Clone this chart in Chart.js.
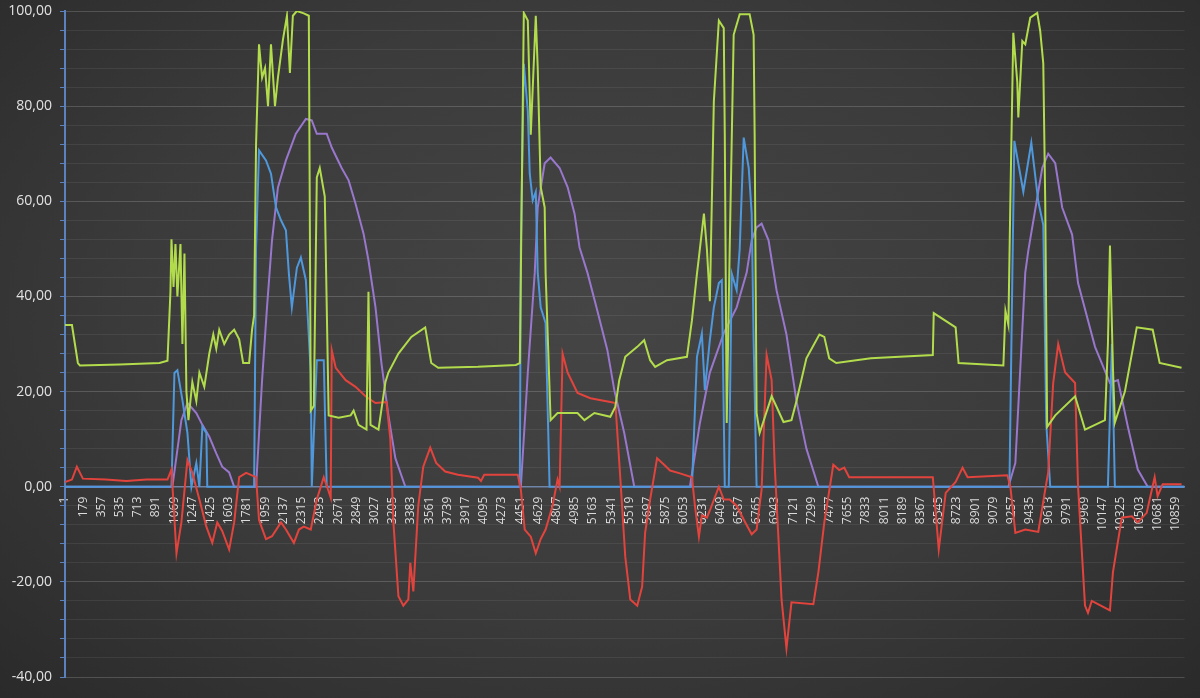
<!DOCTYPE html>
<html>
<head>
<meta charset="utf-8">
<script src="https://cdn.jsdelivr.net/npm/chart.js@4/dist/chart.umd.min.js"></script>
<style>
  html, body { margin: 0; padding: 0; }
  body {
    width: 1200px; height: 698px; overflow: hidden;
    background: radial-gradient(ellipse at 50% 45%, #454545 0%, #3b3b3b 55%, #2a2a2a 100%);
  }
</style>
</head>
<body>
<canvas id="chart" width="1200" height="698"></canvas>
<script>
// x tick labels (sample index)
const xTicks = [1, 179, 357, 535, 713, 891, 1069, 1247, 1425, 1603, 1781, 1959, 2137, 2315, 2493,
  2671, 2849, 3027, 3205, 3383, 3561, 3739, 3917, 4095, 4273, 4451, 4629, 4807, 4985, 5163,
  5341, 5519, 5697, 5875, 6053, 6231, 6409, 6587, 6765, 6943, 7121, 7299, 7477, 7655, 7833,
  8011, 8189, 8367, 8545, 8723, 8901, 9079, 9257, 9435, 9613, 9791, 9969, 10147, 10325,
  10503, 10681, 10859];

// green series
const greenX = [1, 69, 127, 147, 536, 925, 1003, 1032, 1042, 1062, 1081, 1100, 1130, 1149, 1169,
  1188, 1208, 1246, 1285, 1315, 1363, 1412, 1451, 1480, 1509, 1558, 1606, 1655, 1704, 1743,
  1801, 1830, 1850, 1869, 1898, 1928, 1957, 1986, 2015, 2054, 2083, 2132, 2171, 2200, 2229,
  2268, 2336, 2385, 2404, 2434, 2463, 2492, 2541, 2579, 2677, 2794, 2823, 2871, 2949, 2968,
  2988, 3066, 3134, 3163, 3261, 3387, 3523, 3582, 3650, 4039, 4409, 4448, 4487, 4526, 4555,
  4604, 4623, 4652, 4691, 4700, 4749, 4817, 5012, 5080, 5177, 5333, 5382, 5420, 5479, 5596,
  5664, 5722, 5771, 5887, 6082, 6131, 6180, 6199, 6248, 6277, 6306, 6345, 6394, 6442, 6452,
  6471, 6500, 6539, 6598, 6695, 6734, 6744, 6763, 6793, 6910, 6958, 7026, 7104, 7153, 7250,
  7377, 7425, 7473, 7542, 7880, 8486, 8495, 8709, 8738, 9176, 9196, 9225, 9244, 9273, 9312,
  9322, 9361, 9390, 9439, 9507, 9536, 9566, 9585, 9604, 9683, 9877, 9974, 10169, 10198, 10218,
  10247, 10266, 10364, 10480, 10636, 10704, 10918];
const greenY = [34, 34, 26, 25.5, 25.7, 26, 26.5, 41, 52, 42, 51, 40, 51, 30, 49,
  20, 14, 22, 18, 24, 21, 28, 32, 29, 33, 30, 32, 33, 31, 26,
  26, 33, 36, 72, 93, 86, 88, 80, 93, 80, 86, 94, 99, 87, 99,
  100, 99.5, 99, 16, 17, 65, 67, 61, 15, 14.5, 15, 16, 13, 12, 41,
  13, 12, 22, 24, 28, 31.5, 33.5, 26, 25, 25.2, 25.6, 26, 99.6, 98, 74,
  99, 88, 63, 58.7, 45, 14, 15.5, 15.5, 14, 15.5, 14.7, 16.8, 22.4, 27.3, 29.4,
  30.8, 26.6, 25.2, 26.6, 27.3, 35, 44.8, 48.2, 57.4, 50, 39, 81, 98, 96.4, 74,
  13.4, 50, 95, 99.3, 99.3, 95, 74, 15.5, 11.3, 19, 16.8, 13.6, 14, 18, 27,
  32, 31.5, 27, 26, 27, 27.7, 36.5, 33.5, 26, 25.5, 37, 34, 60, 95.4, 85,
  77.6, 93.7, 93, 98.6, 99.6, 95.8, 89, 60, 12.6, 15, 19, 12, 14, 30, 50.7,
  25, 13.5, 20, 33.5, 33, 26, 25];

// red series
const redX = [1, 69, 117, 176, 400, 600, 800, 1003, 1042, 1091, 1139, 1198, 1246, 1315, 1383,
  1441, 1490, 1538, 1606, 1655, 1704, 1772, 1869, 1898, 1966, 2025, 2113, 2161, 2239, 2288,
  2336, 2404, 2463, 2531, 2579, 2599, 2609, 2648, 2745, 2842, 2939, 3037, 3144, 3182, 3212,
  3261, 3309, 3358, 3377, 3407, 3455, 3504, 3572, 3630, 3718, 3844, 4039, 4068, 4100, 4428,
  4458, 4496, 4555, 4604, 4652, 4700, 4768, 4817, 4837, 4866, 4915, 5012, 5138, 5333, 5382,
  5430, 5479, 5528, 5596, 5644, 5673, 5722, 5790, 5859, 5917, 6014, 6131, 6160, 6199, 6228,
  6277, 6306, 6394, 6442, 6500, 6568, 6647, 6715, 6763, 6812, 6861, 6910, 6939, 6977, 7007,
  7055, 7104, 7318, 7367, 7425, 7513, 7571, 7620, 7668, 8486, 8544, 8612, 8709, 8777, 8826,
  9215, 9244, 9293, 9390, 9517, 9585, 9614, 9663, 9712, 9780, 9877, 9906, 9974, 10003, 10040,
  10218, 10247, 10334, 10432, 10490, 10577, 10655, 10684, 10733, 10918];
const redY = [1, 1.5, 4.2, 1.7, 1.5, 1.2, 1.5, 1.5, 3.6, -14, -7.5, 5.6, 2.9, -2.7, -8.4,
  -11.8, -7.5, -9.3, -13.2, -7.5, 2, 2.9, 2, -7, -11, -10.4, -7.5, -9, -11.8, -9,
  -8.4, -9, -2.7, 2, -1, -2.3, 28.7, 25, 22.4, 21, 19, 17.6, 17.8, 10, -7.5,
  -23, -25, -23.7, -16, -22, -4, 4.2, 8.2, 5, 3.2, 2.5, 1.9, 1.2, 2.5, 2.5,
  -0.6, -9, -10.5, -14, -11, -9, -4, 1.5, 0, 28, 24, 19.7, 18.6, 17.8, 17.6,
  2, -14.7, -23.7, -25, -21, -9.7, -2.7, 6, 4.6, 3.4, 2.8, 2, -4, -10.5, -6,
  -6.5, -5, 0, -2.7, -2.7, -4, -7.3, -10, -9, -0.6, 27.7, 22.4, 5, -11, -23.7,
  -34, -24.3, -24.7, -18, -7.5, 4.6, 3.5, 4, 2, 2, -13.2, -1.3, 1, 4, 2,
  2.4, 0, -9.7, -9, -9.5, -0.6, 3, 21.8, 30, 24, 21.8, 0, -25, -26.5, -24,
  -26, -18, -6.5, -6.2, -7.5, -5.5, 2, -2, 0.5, 0.5];

// blue series
const blueX = [1, 1042, 1071, 1100, 1149, 1198, 1237, 1285, 1315, 1344, 1383, 1392, 1850, 1869,
  1898, 1966, 2015, 2064, 2113, 2161, 2190, 2219, 2268, 2307, 2356, 2404, 2414, 2463, 2531,
  2560, 4448, 4458, 4487, 4526, 4545, 4574, 4604, 4623, 4652, 4700, 4739, 6131, 6180, 6228,
  6257, 6306, 6345, 6394, 6423, 6452, 6491, 6520, 6568, 6598, 6637, 6686, 6715, 6734, 6763,
  9235, 9264, 9283, 9371, 9449, 9517, 9566, 9595, 9634, 10198, 10237, 10266, 10947];
const blueY = [0, 0, 23.9, 24.5, 18.2, 11.3, 0, 5, 0, 12.6, 11.3, 0, 0, 50,
  70.7, 68.6, 65.8, 58.7, 56, 53.9, 44.8, 37.7, 46, 48.2, 43.4, 23.9, 0, 26.6, 26.6,
  0, 0, 50, 88.9, 79, 65.8, 60.2, 62, 45, 37.7, 34.4, 0, 0, 27.3, 32.2,
  20.3, 30.8, 37.7, 42.8, 43.4, 0, 0, 44.8, 41.3, 50, 73.4, 67, 57.4, 30.8, 0,
  0, 45, 72.7, 62, 72.3, 60, 55, 13.4, 0, 0, 30, 0, 0];

// purple series
const purpleX = [1, 1051, 1139, 1198, 1285, 1344, 1412, 1480, 1538, 1606, 1655, 1869, 1928, 1976,
  2025, 2083, 2161, 2258, 2356, 2414, 2463, 2560, 2609, 2706, 2774, 2842, 2920, 2968, 3037,
  3095, 3163, 3231, 3329, 4458, 4526, 4594, 4623, 4691, 4749, 4837, 4915, 4983, 5032, 5109,
  5206, 5304, 5372, 5469, 5567, 6111, 6209, 6306, 6442, 6568, 6666, 6715, 6763, 6812, 6880,
  6958, 7055, 7153, 7250, 7367, 9225, 9293, 9390, 9420, 9556, 9614, 9683, 9751, 9848, 9906,
  10072, 10218, 10296, 10393, 10490, 10587, 10947];
const purpleY = [0, 0, 14, 17.6, 15.5, 13, 10.5, 7, 4.2, 3, 0, 0, 22.4, 37.7,
  51.8, 62.9, 68.6, 74.2, 77.3, 77, 74.2, 74.2, 71.3, 67, 64.4, 59.5, 53.2, 47.6, 37.7,
  26, 15, 6, 0, 0, 24, 45, 58.7, 68, 69.2, 67, 63, 57.4, 50.3, 45,
  37, 28.7, 20.3, 11.3, 0, 0, 13.4, 24, 32.3, 37.7, 45, 51.8, 54.5, 55.3, 51.8,
  41.3, 32, 18, 8, 0, 0, 5, 45, 49.7, 67, 70, 68, 58.7, 53, 42.8,
  29.4, 21.8, 22.4, 12.6, 3.6, 0, 0];

const pts = (xs, ys) => xs.map((x, i) => ({ x: x, y: ys[i] }));

Chart.defaults.font.family = "'Open Sans', 'Liberation Sans', sans-serif";

const line = (data, color) => ({
  data: data,
  borderColor: color,
  borderWidth: 2,
  pointRadius: 0,
  tension: 0,
  fill: false
});

new Chart(document.getElementById('chart'), {
  type: 'line',
  data: {
    datasets: [
      line(pts(greenX, greenY), '#b2dc4c'),
      line(pts(redX, redY), '#e2443d'),
      line(pts(blueX, blueY), '#4f98dc'),
      line(pts(purpleX, purpleY), '#9877cc')
    ]
  },
  options: {
    responsive: false,
    animation: false,
    devicePixelRatio: 1,
    layout: { padding: { left: 0, right: 10, top: 11, bottom: 21 } },
    plugins: { legend: { display: false }, tooltip: { enabled: false } },
    scales: {
      x: {
        type: 'linear',
        position: { y: 0 },
        min: 1,
        max: 10947,
        afterBuildTicks: (s) => { s.ticks = xTicks.map(v => ({ value: v })); },
        afterFit: (s) => { s.height = 0; },
        grid: { color: 'rgba(0,0,0,0)', drawTicks: false },
        border: { color: '#6f86a8', width: 1.5 },
        ticks: {
          autoSkip: false,
          minRotation: 90,
          maxRotation: 90,
          padding: 10,
          color: '#dcdcdc',
          font: { size: 12 },
          callback: (v) => String(v)
        }
      },
      y: {
        min: -40,
        max: 100,
        afterFit: (s) => { s.width = 65; s.paddingTop = 5; s.paddingBottom = 5; },
        grid: {
          color: (c) => (c.tick && c.tick.value % 20 === 0) ? 'rgba(255,255,255,0.17)' : 'rgba(255,255,255,0.07)',
          tickColor: '#5a82bd',
          tickLength: 5
        },
        border: { color: '#5a82bd', width: 2 },
        ticks: {
          stepSize: 4,
          autoSkip: false,
          padding: 8,
          color: '#e2e2e2',
          font: { size: 14 },
          callback: (v) => (v % 20 === 0) ? v.toFixed(2).replace('.', ',') : ''
        }
      }
    }
  }
});
</script>
</body>
</html>
